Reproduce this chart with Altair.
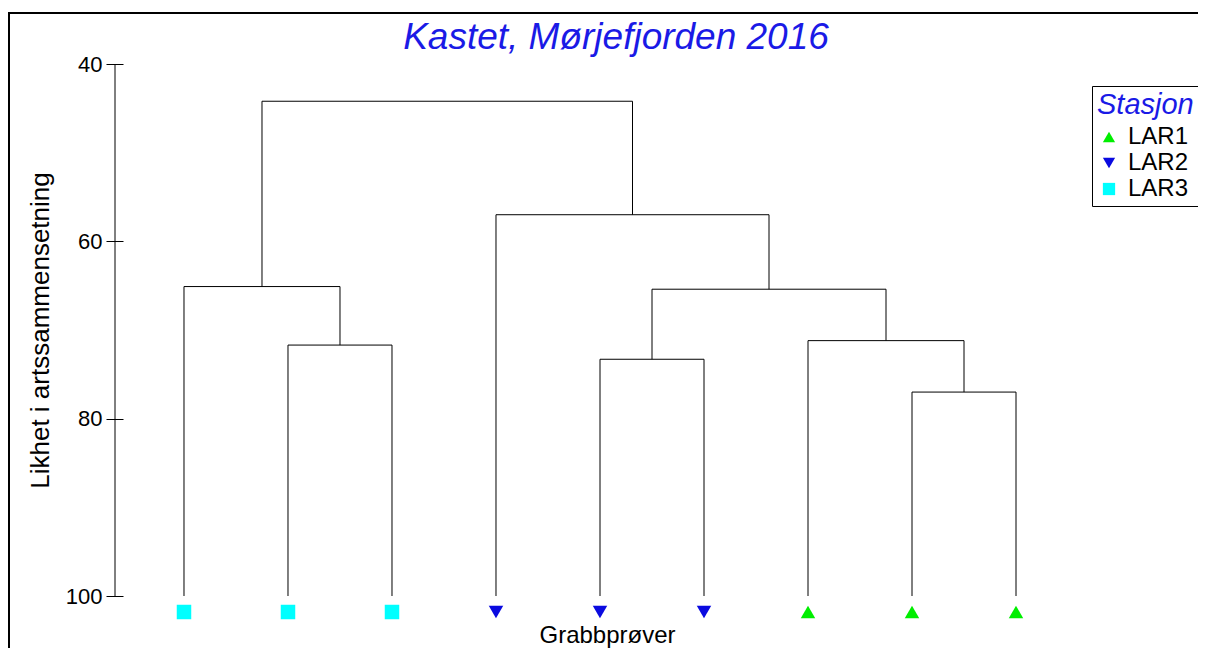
import altair as alt
import pandas as pd

# ---- data ----
leaf_station = ["LAR3", "LAR3", "LAR3", "LAR2", "LAR2", "LAR2", "LAR1", "LAR1", "LAR1"]
# merges in order: children are "L<i>" (leaf) or "M<j>" (earlier merge)
merge_left = ["L1", "L0", "L4", "L7", "L6", "M2", "L3", "M1"]
merge_right = ["L2", "M0", "L5", "L8", "M3", "M4", "M5", "M6"]
merge_height = [71.7, 65.1, 73.3, 77.0, 71.2, 65.4, 57.0, 44.2]

stations = ["LAR1", "LAR2", "LAR3"]
station_shapes = ["triangle-up", "triangle-down", "square"]
station_colors = ["#00ee00", "#0a0ae0", "#00ffff"]
y_ticks = [40, 60, 80, 100]

FONT = "Liberation Sans"
BLUE = "#1a1ae6"

# ---- dendrogram layout (from the merge table) ----
pos = {}
for i in range(len(leaf_station)):
    pos[f"L{i}"] = (float(i), 100.0)
segs = []
for j, (a, b, h) in enumerate(zip(merge_left, merge_right, merge_height)):
    xa, ya = pos[a]
    xb, yb = pos[b]
    segs.append(dict(x=xa, x2=xa, y=ya, y2=h))
    segs.append(dict(x=xb, x2=xb, y=yb, y2=h))
    segs.append(dict(x=xa, x2=xb, y=h, y2=h))
    pos[f"M{j}"] = ((xa + xb) / 2, h)
seg_df = pd.DataFrame(segs)

leaf_df = pd.DataFrame({
    "x": list(range(len(leaf_station))),
    "y": [100] * len(leaf_station),
    "Stasjon": leaf_station,
})

xscale = alt.Scale(domain=[-0.5865, 8.5865], nice=False, zero=False)
yscale = alt.Scale(domain=[40, 100], reverse=True, nice=False, zero=False)

xaxis = alt.Axis(labels=False, ticks=False, domain=False, grid=False,
                 title="Grabbprøver", titleFontSize=24, titleFont=FONT,
                 titleFontWeight="normal", titleColor="black", titlePadding=27,
                 titleX=484)
yaxis = alt.Axis(values=y_ticks, domain=False, grid=False, tickSize=17,
                 tickColor="black", labelColor="black", labelFontSize=22,
                 labelFont=FONT, labelPadding=4,
                 title="Likhet i artssammensetning", titleFontSize=26,
                 titleFont=FONT, titleFontWeight="normal", titleColor="black",
                 titlePadding=12)

lines = alt.Chart(seg_df).mark_rule(color="black", strokeWidth=1).encode(
    x=alt.X("x:Q", scale=xscale, axis=xaxis),
    x2="x2:Q",
    y=alt.Y("y:Q", scale=yscale, axis=yaxis),
    y2="y2:Q",
)

axis_line = alt.Chart(pd.DataFrame({"a": [0]})).mark_rule(color="black", strokeWidth=1).encode(
    x=alt.value(-8),
    y=alt.datum(y_ticks[0], scale=yscale),
    y2=alt.datum(y_ticks[-1]),
)

points = alt.Chart(leaf_df).mark_point(filled=True, opacity=1, size=210, yOffset=16).encode(
    x=alt.X("x:Q", scale=xscale),
    y=alt.Y("y:Q", scale=yscale),
    shape=alt.Shape("Stasjon:N", scale=alt.Scale(domain=stations, range=station_shapes)),
    color=alt.Color("Stasjon:N", scale=alt.Scale(domain=stations, range=station_colors)),
)

frame = alt.Chart(pd.DataFrame({"a": [0]})).mark_rect(
    fill=None, stroke="black", strokeWidth=2
).encode(
    x=alt.value(-114), x2=alt.value(1200), y=alt.value(-51), y2=alt.value(700)
)

chart = alt.layer(frame, lines, axis_line, points).properties(
    width=954,
    height=532,
    autosize=alt.AutoSizeParams(type="none"),
    padding={"left": 115, "top": 56, "right": 121, "bottom": 52},
    title=alt.TitleParams(
        "Kastet, Mørjefjorden 2016", font=FONT, fontSize=37, fontStyle="italic",
        fontWeight="normal", color=BLUE, anchor="middle", frame="group",
        dx=16, dy=59, offset=14,
    ),
).configure_view(stroke=None).configure_legend(
    orient="none", legendX=969, legendY=22,
    strokeColor="black", fillColor="white", padding=5,
    titleFont=FONT, titleFontSize=29, titleFontStyle="italic", titleFontWeight="normal",
    titleColor=BLUE, labelFont=FONT, labelFontSize=24, labelColor="black",
    labelOffset=7, symbolSize=150, rowPadding=2, symbolStrokeWidth=0,
)

chart.save("out.html", embed_options={"renderer": "svg", "actions": False})
